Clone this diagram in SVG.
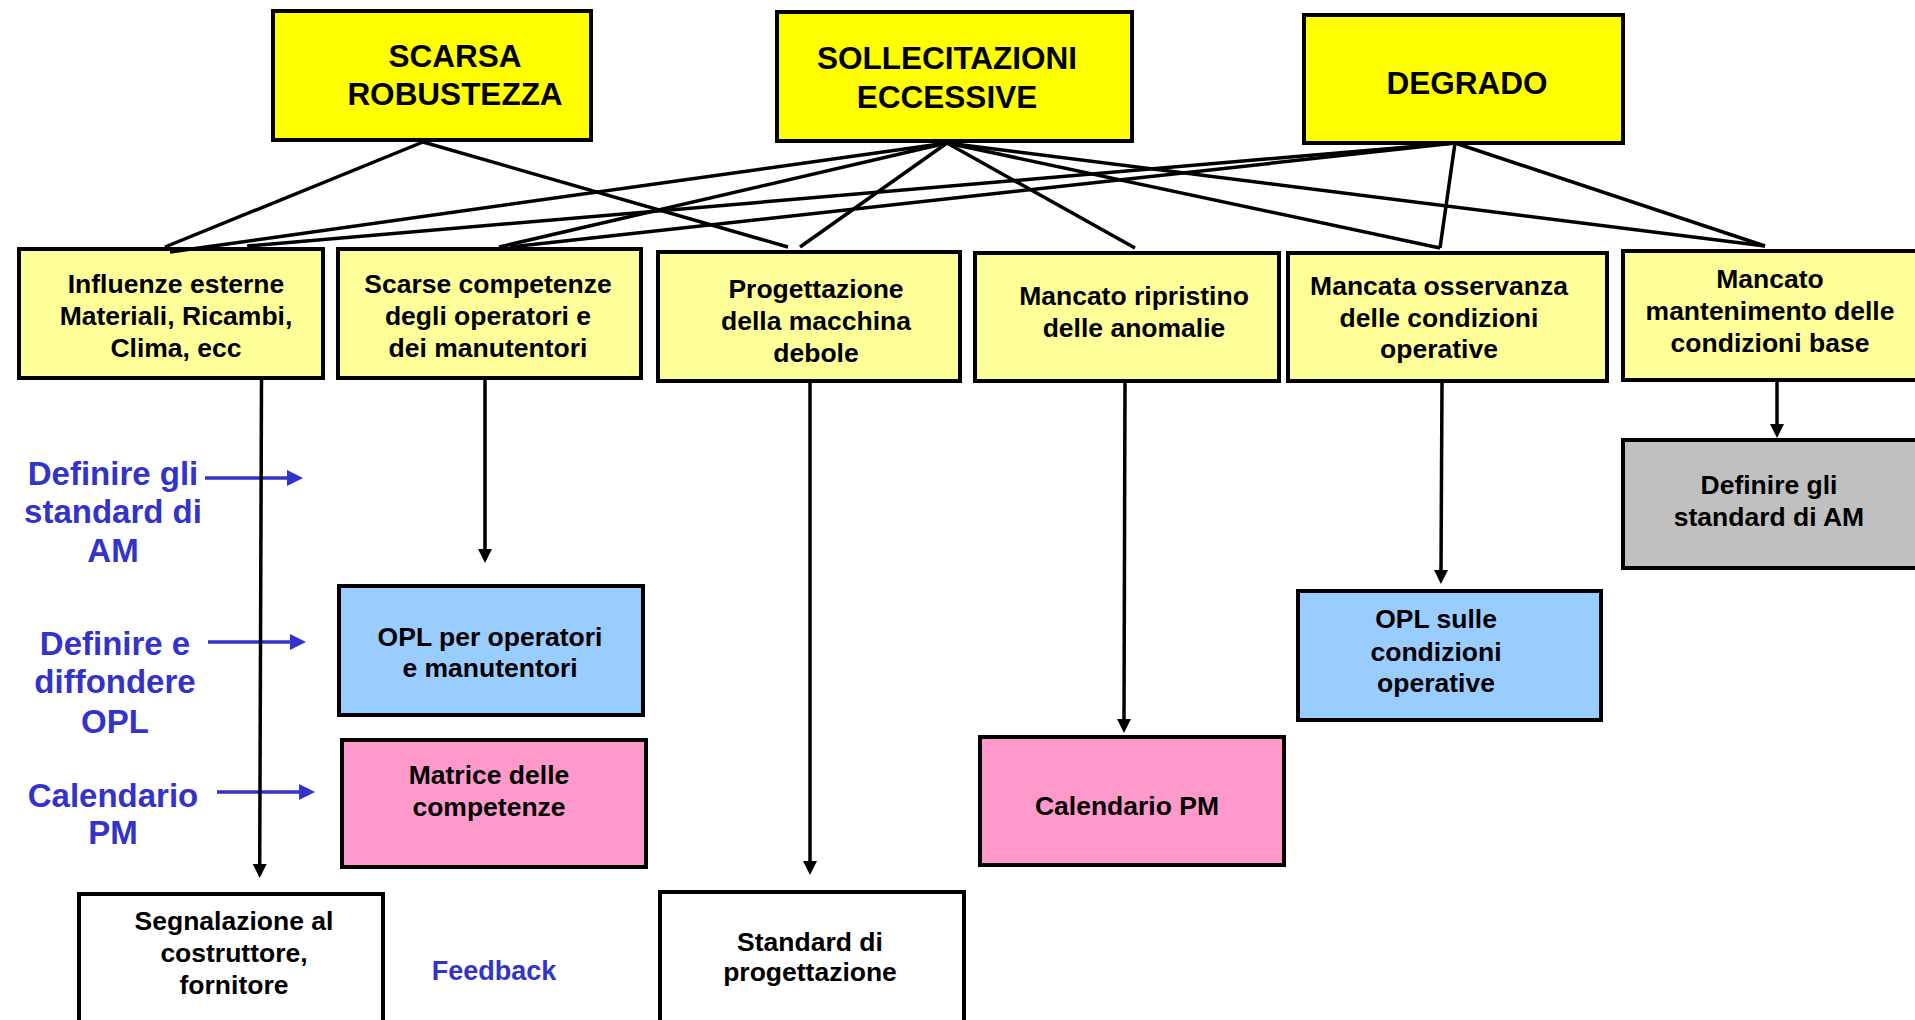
<svg xmlns="http://www.w3.org/2000/svg" width="1915" height="1020" viewBox="0 0 1915 1020">
  <defs>
    <style>
      .box{stroke:#000;stroke-width:4}
      .cause{fill:#FFFF00}
      .factor{fill:#FFFF99}
      .opl{fill:#99CCFF}
      .plan{fill:#FF99CC}
      .std{fill:#C0C0C0}
      .out{fill:#FFFFFF}
      text{font-family:"Liberation Sans",Arial,Helvetica,sans-serif;font-weight:bold;text-anchor:middle;fill:#000}
      .t1{font-size:31.5px}
      .t2{font-size:26.5px}
      .lbl{font-size:33px;fill:#3333CC}
      .fb{font-size:27px;fill:#3333CC}
      .link{stroke:#000;stroke-width:3.5;fill:none}
      .down{stroke:#000;stroke-width:3.5;fill:none;marker-end:url(#ah)}
      .hint{stroke:#3333CC;stroke-width:3.5;fill:none;marker-end:url(#bh)}
    </style>
    <marker id="ah" markerUnits="userSpaceOnUse" markerWidth="14" markerHeight="14" refX="2" refY="7" orient="auto">
      <path d="M0,0 L14,7 L0,14 z" fill="#000"/>
    </marker>
    <marker id="bh" markerUnits="userSpaceOnUse" markerWidth="16" markerHeight="16" refX="2" refY="8" orient="auto">
      <path d="M0,0 L16,8 L0,16 z" fill="#3333CC"/>
    </marker>
  </defs>

  <rect x="0" y="0" width="1915" height="1020" fill="#FFFFFF"/>

  <!-- top level causes -->
  <g id="scarsa-robustezza">
    <rect class="box cause" x="273" y="11" width="318" height="129"/>
    <text class="t1" x="455" y="67">SCARSA</text>
    <text class="t1" x="455" y="105">ROBUSTEZZA</text>
  </g>
  <g id="sollecitazioni-eccessive">
    <rect class="box cause" x="777" y="12" width="355" height="129"/>
    <text class="t1" x="947" y="69">SOLLECITAZIONI</text>
    <text class="t1" x="947" y="108">ECCESSIVE</text>
  </g>
  <g id="degrado">
    <rect class="box cause" x="1304" y="15" width="319" height="128"/>
    <text class="t1" x="1467" y="94">DEGRADO</text>
  </g>

  <!-- contributing factors -->
  <g id="influenze-esterne">
    <rect class="box factor" x="19" y="249" width="304" height="129"/>
    <text class="t2" x="176" y="293">Influenze esterne</text>
    <text class="t2" x="176" y="325">Materiali, Ricambi,</text>
    <text class="t2" x="176" y="357">Clima, ecc</text>
  </g>
  <g id="scarse-competenze">
    <rect class="box factor" x="338" y="249" width="303" height="129"/>
    <text class="t2" x="488" y="293">Scarse competenze</text>
    <text class="t2" x="488" y="325">degli operatori e</text>
    <text class="t2" x="488" y="357">dei manutentori</text>
  </g>
  <g id="progettazione-debole">
    <rect class="box factor" x="658" y="252" width="302" height="129"/>
    <text class="t2" x="816" y="298">Progettazione</text>
    <text class="t2" x="816" y="330">della macchina</text>
    <text class="t2" x="816" y="362">debole</text>
  </g>
  <g id="mancato-ripristino">
    <rect class="box factor" x="975" y="253" width="304" height="128"/>
    <text class="t2" x="1134" y="305">Mancato ripristino</text>
    <text class="t2" x="1134" y="337">delle anomalie</text>
  </g>
  <g id="mancata-osservanza">
    <rect class="box factor" x="1288" y="253" width="319" height="128"/>
    <text class="t2" x="1439" y="295">Mancata osservanza</text>
    <text class="t2" x="1439" y="327">delle condizioni</text>
    <text class="t2" x="1439" y="358">operative</text>
  </g>
  <g id="mancato-mantenimento">
    <rect class="box factor" x="1623" y="251" width="304" height="129"/>
    <text class="t2" x="1770" y="288">Mancato</text>
    <text class="t2" x="1770" y="320">mantenimento delle</text>
    <text class="t2" x="1770" y="352">condizioni base</text>
  </g>

  <!-- countermeasures -->
  <g id="opl-operatori">
    <rect class="box opl" x="339" y="586" width="304" height="129"/>
    <text class="t2" x="490" y="646">OPL per operatori</text>
    <text class="t2" x="490" y="677">e manutentori</text>
  </g>
  <g id="matrice-competenze">
    <rect class="box plan" x="342" y="740" width="304" height="127"/>
    <text class="t2" x="489" y="784">Matrice delle</text>
    <text class="t2" x="489" y="816">competenze</text>
  </g>
  <g id="segnalazione-costruttore">
    <rect class="box out" x="79" y="894" width="304" height="150"/>
    <text class="t2" x="234" y="930">Segnalazione al</text>
    <text class="t2" x="234" y="962">costruttore,</text>
    <text class="t2" x="234" y="994">fornitore</text>
  </g>
  <g id="standard-progettazione">
    <rect class="box out" x="660" y="892" width="304" height="150"/>
    <text class="t2" x="810" y="951">Standard di</text>
    <text class="t2" x="810" y="981">progettazione</text>
  </g>
  <g id="calendario-pm">
    <rect class="box plan" x="980" y="737" width="304" height="128"/>
    <text class="t2" x="1127" y="815">Calendario PM</text>
  </g>
  <g id="opl-condizioni">
    <rect class="box opl" x="1298" y="591" width="303" height="129"/>
    <text class="t2" x="1436" y="628">OPL sulle</text>
    <text class="t2" x="1436" y="661">condizioni</text>
    <text class="t2" x="1436" y="692">operative</text>
  </g>
  <g id="standard-am">
    <rect class="box std" x="1623" y="440" width="304" height="128"/>
    <text class="t2" x="1769" y="494">Definire gli</text>
    <text class="t2" x="1769" y="526">standard di AM</text>
  </g>

  <!-- side notes -->
  <g id="nota-standard-am">
    <text class="lbl" x="113" y="485">Definire gli</text>
    <text class="lbl" x="113" y="523">standard di</text>
    <text class="lbl" x="113" y="562">AM</text>
  </g>
  <g id="nota-opl">
    <text class="lbl" x="115" y="655">Definire e</text>
    <text class="lbl" x="115" y="693">diffondere</text>
    <text class="lbl" x="115" y="733">OPL</text>
  </g>
  <g id="nota-calendario">
    <text class="lbl" x="113" y="807">Calendario</text>
    <text class="lbl" x="113" y="844">PM</text>
  </g>
  <g id="nota-feedback">
    <text class="fb" x="494" y="980">Feedback</text>
  </g>

  <g id="connectors">
    <!-- blue pointers from the side notes -->
    <path class="hint" d="M205,478 L289,478"/>
    <path class="hint" d="M208,642 L292,642"/>
    <path class="hint" d="M217,792 L301,792"/>

    <!-- SCARSA ROBUSTEZZA -->
    <path class="link" d="M423,142 L165,247"/>
    <path class="link" d="M423,142 L788,247"/>
    <!-- SOLLECITAZIONI ECCESSIVE -->
    <path class="link" d="M947,143 L170,252"/>
    <path class="link" d="M947,143 L499,247"/>
    <path class="link" d="M947,143 L800,247"/>
    <path class="link" d="M947,143 L1135,248"/>
    <path class="link" d="M947,143 L1440,248"/>
    <path class="link" d="M947,143 L1765,246"/>
    <!-- DEGRADO -->
    <path class="link" d="M1455,143 L247,246"/>
    <path class="link" d="M1455,143 L510,247"/>
    <path class="link" d="M1455,143 L1440,248"/>
    <path class="link" d="M1455,143 L1765,246"/>

    <!-- factor to countermeasure -->
    <path class="down" d="M261.5,380 L259.7,866"/>
    <path class="down" d="M485,380 L485,551"/>
    <path class="down" d="M810,383 L810,863"/>
    <path class="down" d="M1125,383 L1124,721"/>
    <path class="down" d="M1442,383 L1441,572"/>
    <path class="down" d="M1777,382 L1777,426"/>
  </g>
</svg>
